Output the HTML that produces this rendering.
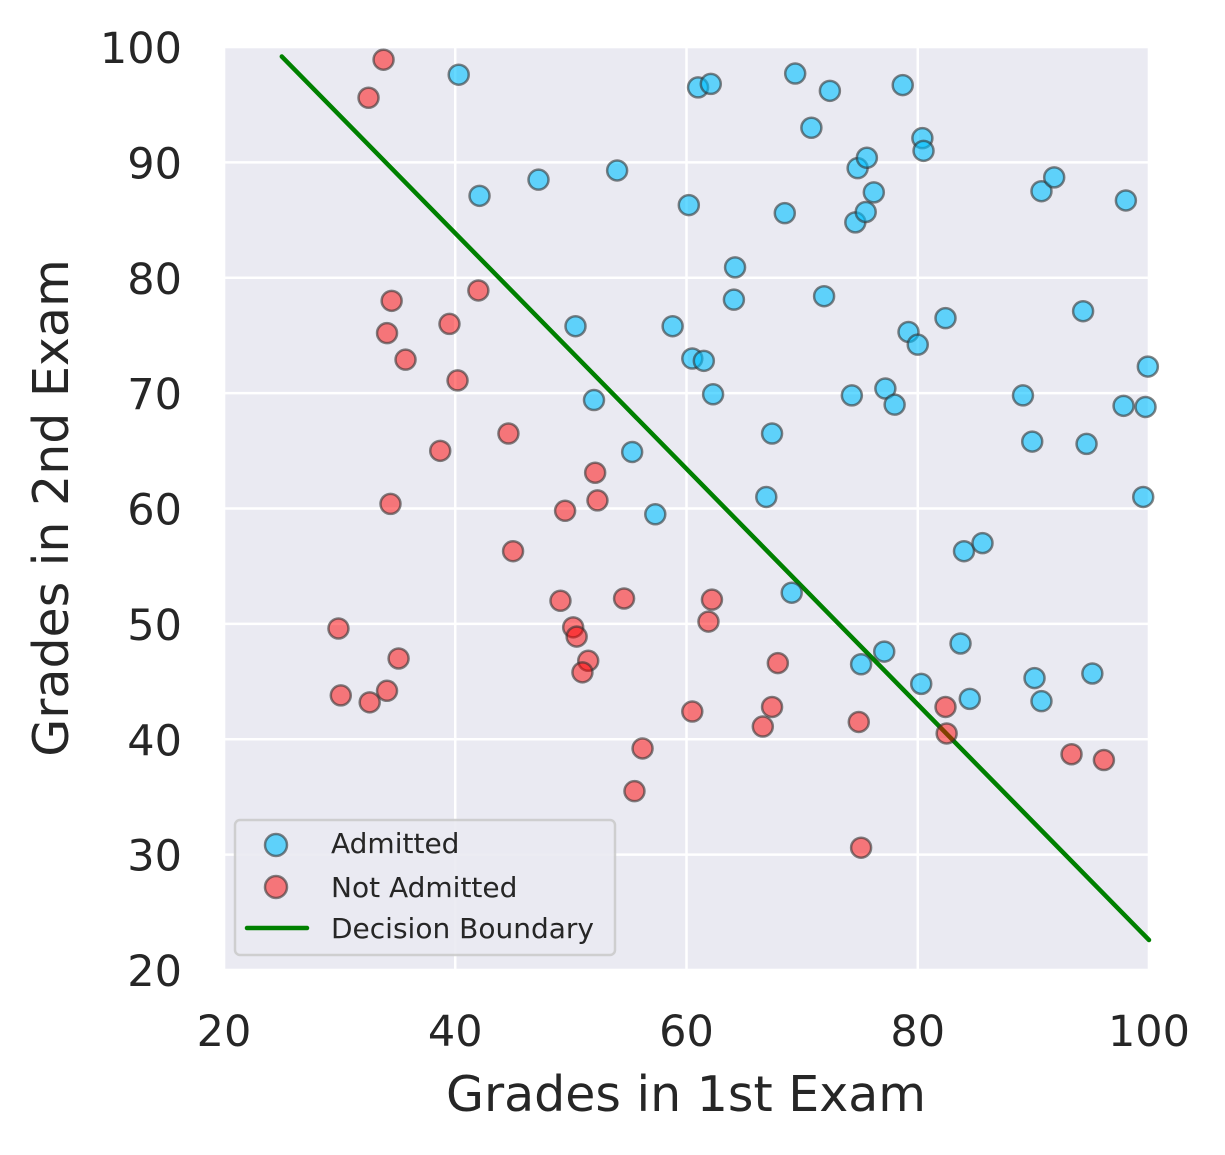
<!DOCTYPE html>
<html><head><meta charset="utf-8"><style>
body{margin:0;background:#fff}
svg text{font-family:"DejaVu Sans","Liberation Sans",sans-serif;fill:#262626}
</style></head><body>
<svg id="chart" width="1225" height="1150">
<rect x="224" y="47" width="925" height="923" fill="#eaeaf2"/>
<g id="grid"></g><g id="ticks"></g>
<g id="line"></g><g id="pts"></g>
<text x="686" y="1111" font-size="49" text-anchor="middle">Grades in 1st Exam</text>
<text transform="translate(68,508) rotate(-90)" font-size="49" text-anchor="middle">Grades in 2nd Exam</text>
<g>
<rect x="235" y="820" width="380" height="135" rx="5" fill="#eaeaf2" stroke="#cccccc" stroke-width="2.5" opacity="0.9"/>
<circle cx="276" cy="845" r="11" fill="#00bfff" fill-opacity="0.6" stroke="#333" stroke-opacity="0.6" stroke-width="2.5"/>
<text x="331" y="853" font-size="28">Admitted</text>
<circle cx="276" cy="887" r="11" fill="#ff0000" fill-opacity="0.5" stroke="#333" stroke-opacity="0.6" stroke-width="2.5"/>
<text x="331" y="897" font-size="28">Not Admitted</text>
<line x1="247" y1="928" x2="307" y2="928" stroke="#008000" stroke-width="4.5" stroke-linecap="round"/>
<text x="331" y="938" font-size="28">Decision Boundary</text>
</g>
</svg>
<script>
const xTicks=[20,40,60,80,100];
const yTicks=[20,30,40,50,60,70,80,90,100];
const admX=[40.3,42.1,47.2,54.0,50.4,52.0,55.3,57.3,58.8,60.2,60.5,61.5,62.3,61.0,62.1,64.2,64.1,66.9,67.4,68.5,69.4,69.1,70.8,72.4,71.9,74.3,74.6,74.8,75.6,75.5,76.2,77.2,78.0,78.7,79.2,80.0,80.4,80.5,82.4,75.1,77.1,80.3,83.7,84.0,85.6,84.5,89.1,89.9,90.7,91.8,90.1,90.7,94.3,94.6,95.1,98.0,97.8,99.7,99.9,99.5];
const admY=[97.6,87.1,88.5,89.3,75.8,69.4,64.9,59.5,75.8,86.3,73.0,72.8,69.9,96.5,96.8,80.9,78.1,61.0,66.5,85.6,97.7,52.7,93.0,96.2,78.4,69.8,84.8,89.5,90.4,85.7,87.4,70.4,69.0,96.7,75.3,74.2,92.1,91.0,76.5,46.5,47.6,44.8,48.3,56.3,57.0,43.5,69.8,65.8,87.5,88.7,45.3,43.3,77.1,65.6,45.7,86.7,68.9,68.8,72.3,61.0];
const notX=[33.8,32.5,34.5,34.1,35.7,39.5,40.2,42.0,34.4,38.7,44.6,45.0,29.9,30.1,32.6,34.1,35.1,49.5,52.1,52.3,49.1,50.2,50.5,51.5,51.0,54.6,56.2,55.5,62.2,61.9,60.5,67.4,66.6,67.9,74.9,75.1,82.4,82.5,93.3,96.1];
const notY=[98.9,95.6,78.0,75.2,72.9,76.0,71.1,78.9,60.4,65.0,66.5,56.3,49.6,43.8,43.2,44.2,47.0,59.8,63.1,60.7,52.0,49.7,48.9,46.8,45.8,52.2,39.2,35.5,52.1,50.2,42.4,42.8,41.1,46.6,41.5,30.6,42.8,40.5,38.7,38.2];
const lineX=[25,100];
const lineIntercept=124.7, lineSlope=-1.021;
const X=v=>224+(v-20)*925/80, Y=v=>970-(v-20)*923/80;
const NS='http://www.w3.org/2000/svg';
function mk(t,a,p){const e=document.createElementNS(NS,t);for(const k in a)e.setAttribute(k,a[k]);document.getElementById(p).appendChild(e);return e;}
xTicks.forEach(t=>{
 const l=mk('line',{x1:X(t),x2:X(t),y1:47,y2:970,stroke:'#fff','stroke-width':2.5},'grid');
 
 
 const s=mk('text',{x:X(t),y:1046,'font-size':43,'text-anchor':'middle'},'ticks');s.textContent=t;
 
 
});
yTicks.forEach(t=>{
 const l=mk('line',{x1:224,x2:1149,y1:Y(t),y2:Y(t),stroke:'#fff','stroke-width':2.5},'grid');
 
 
 const s=mk('text',{x:182,y:Y(t)+16,'font-size':43,'text-anchor':'end'},'ticks');s.textContent=t;
 
 
});
const bl=mk('line',{x1:X(lineX[0]),y1:Y(lineIntercept+lineSlope*lineX[0]),x2:X(lineX[1]),y2:Y(lineIntercept+lineSlope*lineX[1]),stroke:'#008000','stroke-width':4.5,'stroke-linecap':'round'},'line');


admX.forEach((v,i)=>{
 const c=mk('circle',{cx:X(v),cy:Y(admY[i]),r:10,fill:'#00bfff','fill-opacity':0.6,stroke:'#333','stroke-opacity':0.6,'stroke-width':2.5},'pts');
 
 
});
notX.forEach((v,i)=>{
 const c=mk('circle',{cx:X(v),cy:Y(notY[i]),r:10,fill:'#ff0000','fill-opacity':0.5,stroke:'#333','stroke-opacity':0.6,'stroke-width':2.5},'pts');
 
 
});
</script>
</body></html>
